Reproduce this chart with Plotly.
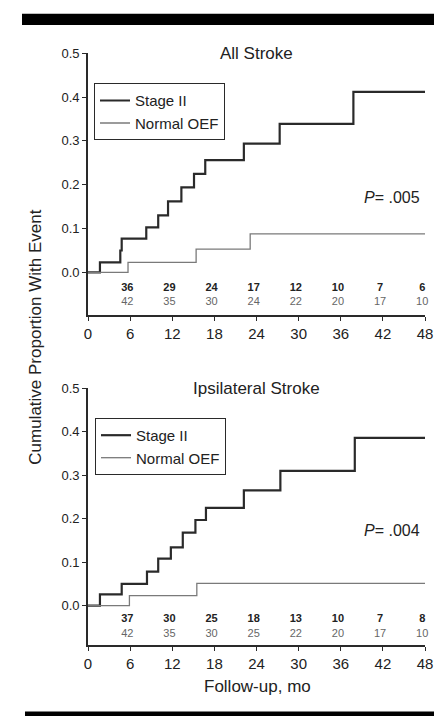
import plotly.graph_objects as go

# ---------------- data ----------------
# Panel A: All Stroke
all_stage2_t = [0, 1.7, 4.6, 4.8, 8.3, 10.0, 11.4, 13.3, 15.1, 16.7, 22.2, 27.3, 37.8, 48]
all_stage2_v = [0, 0.023, 0.05, 0.077, 0.103, 0.13, 0.162, 0.194, 0.225, 0.256, 0.294, 0.339, 0.412, 0.412]
all_normal_t = [0, 5.7, 15.4, 23.1, 48]
all_normal_v = [0, 0.023, 0.053, 0.088, 0.088]

# Panel B: Ipsilateral Stroke
ips_stage2_t = [0, 1.7, 4.8, 8.4, 10.0, 11.8, 13.5, 15.3, 16.8, 22.2, 27.4, 38.0, 48]
ips_stage2_v = [0, 0.026, 0.05, 0.078, 0.108, 0.134, 0.168, 0.197, 0.225, 0.265, 0.31, 0.386, 0.386]
ips_normal_t = [0, 5.9, 15.5, 48]
ips_normal_v = [0, 0.023, 0.051, 0.051]

# Numbers at risk
risk_months = [6, 12, 18, 24, 30, 36, 42, 48]
all_risk_stage2 = [36, 29, 24, 17, 12, 10, 7, 6]
all_risk_normal = [42, 35, 30, 24, 22, 20, 17, 10]
ips_risk_stage2 = [37, 30, 25, 18, 13, 10, 7, 8]
ips_risk_normal = [42, 35, 30, 25, 22, 20, 17, 10]

panel_titles = ["All Stroke", "Ipsilateral Stroke"]
p_values = [".005", ".004"]
x_ticks = [0, 6, 12, 18, 24, 30, 36, 42, 48]
y_ticks = [0.0, 0.1, 0.2, 0.3, 0.4, 0.5]

# ---------------- style ----------------
FONT = "Liberation Sans, Arial, Helvetica, sans-serif"
DARK = "#2a2a2a"
GRAY = "#7a7a7a"
W, H = 434, 716
ML, MR = 88, 9
PW = W - ML - MR


def px_x(p):
    return (p - ML) / PW


def px_y(p):
    return (H - p) / H


fig = go.Figure()

panels = [
    dict(s_t=all_stage2_t, s_v=all_stage2_v, n_t=all_normal_t, n_v=all_normal_v,
         rs=all_risk_stage2, rn=all_risk_normal, xa="x", ya="y", leg="legend",
         row1=-0.036, row2=-0.068),
    dict(s_t=ips_stage2_t, s_v=ips_stage2_v, n_t=ips_normal_t, n_v=ips_normal_v,
         rs=ips_risk_stage2, rn=ips_risk_normal, xa="x2", ya="y2", leg="legend2",
         row1=-0.031, row2=-0.065),
]

risk_x = [m - 0.4 for m in risk_months]

for p in panels:
    fig.add_trace(go.Scatter(x=p["s_t"], y=p["s_v"], mode="lines", line_shape="hv",
                             line=dict(color=DARK, width=2.2), name="Stage II",
                             xaxis=p["xa"], yaxis=p["ya"], legend=p["leg"]))
    fig.add_trace(go.Scatter(x=p["n_t"], y=p["n_v"], mode="lines", line_shape="hv",
                             line=dict(color=GRAY, width=1.3), name="Normal OEF",
                             xaxis=p["xa"], yaxis=p["ya"], legend=p["leg"]))
    fig.add_trace(go.Scatter(x=risk_x, y=[p["row1"]] * len(risk_x), mode="text",
                             text=[str(v) for v in p["rs"]], cliponaxis=False,
                             textfont=dict(family=FONT, size=11, color="#222", weight="bold"),
                             showlegend=False, hoverinfo="skip",
                             xaxis=p["xa"], yaxis=p["ya"]))
    fig.add_trace(go.Scatter(x=risk_x, y=[p["row2"]] * len(risk_x), mode="text",
                             text=[str(v) for v in p["rn"]], cliponaxis=False,
                             textfont=dict(family=FONT, size=11, color="#666"),
                             showlegend=False, hoverinfo="skip",
                             xaxis=p["xa"], yaxis=p["ya"]))

xaxis_common = dict(range=[0, 48], tickvals=x_ticks, showline=True, linecolor=DARK,
                    linewidth=1.6, ticks="outside", ticklen=4, tickcolor=DARK,
                    showgrid=False, zeroline=False,
                    tickfont=dict(family=FONT, size=15, color="#222"))
yaxis_common = dict(tickvals=y_ticks, tickformat=".1f", showline=True, linecolor=DARK,
                    linewidth=1.6, ticks="outside", ticklen=4, tickcolor=DARK,
                    showgrid=False, zeroline=False,
                    tickfont=dict(family=FONT, size=13, color="#222"))

legend_common = dict(xanchor="left", yanchor="top", bgcolor="white", bordercolor=DARK,
                     borderwidth=1, font=dict(family=FONT, size=15, color="#222"),
                     tracegroupgap=0)

fig.update_layout(
    width=W, height=H,
    margin=dict(l=ML, r=MR, t=0, b=0),
    paper_bgcolor="white", plot_bgcolor="white",
    font=dict(family=FONT, color="#222"),
    xaxis=dict(xaxis_common, anchor="y"),
    yaxis=dict(yaxis_common, range=[-0.097, 0.5], domain=[px_y(311), px_y(46.7)], anchor="x"),
    xaxis2=dict(xaxis_common, anchor="y2"),
    yaxis2=dict(yaxis_common, range=[-0.091, 0.5], domain=[px_y(644.5), px_y(385)], anchor="x2"),
    legend=dict(legend_common, x=px_x(94), y=px_y(77)),
    legend2=dict(legend_common, x=px_x(95), y=px_y(415)),
)

annotations = []
for i, (title, pv) in enumerate(zip(panel_titles, p_values)):
    xr = "x" if i == 0 else "x2"
    yr = "y" if i == 0 else "y2"
    annotations.append(dict(text=title, xref=xr + " domain", yref=yr, x=0.5, y=0.5,
                            xanchor="center", yanchor="middle", showarrow=False,
                            font=dict(family=FONT, size=17, color="#222")))
    annotations.append(dict(text="<i>P</i>= " + pv, xref=xr, yref=yr, x=47.6, y=0.172,
                            xanchor="right", yanchor="middle", showarrow=False,
                            font=dict(family=FONT, size=16, color="#222")))

annotations.append(dict(text="Cumulative Proportion With Event", xref="paper", yref="paper",
                        x=px_x(36), y=px_y(334), textangle=-90, xanchor="center",
                        yanchor="middle", showarrow=False,
                        font=dict(family=FONT, size=17, color="#222")))
annotations.append(dict(text="Follow-up, mo", xref="paper", yref="paper",
                        x=px_x(257), y=px_y(686.7), xanchor="center", yanchor="middle",
                        showarrow=False, font=dict(family=FONT, size=17, color="#222")))
fig.update_layout(annotations=annotations)

# black rules at top and bottom of the figure
fig.add_shape(type="rect", xref="paper", yref="paper", x0=px_x(22), x1=px_x(434),
              y0=px_y(18.3), y1=px_y(6.7), fillcolor="black", line_width=0, layer="above")
fig.add_shape(type="rect", xref="paper", yref="paper", x0=px_x(25), x1=px_x(434),
              y0=px_y(716), y1=px_y(711.5), fillcolor="black", line_width=0, layer="above")

# remove the browser's default page margin so the figure fills the window exactly
fig.write_html("out.html", config={"displayModeBar": False},
               post_script="document.body.style.margin='0';document.body.style.overflow='hidden';")
